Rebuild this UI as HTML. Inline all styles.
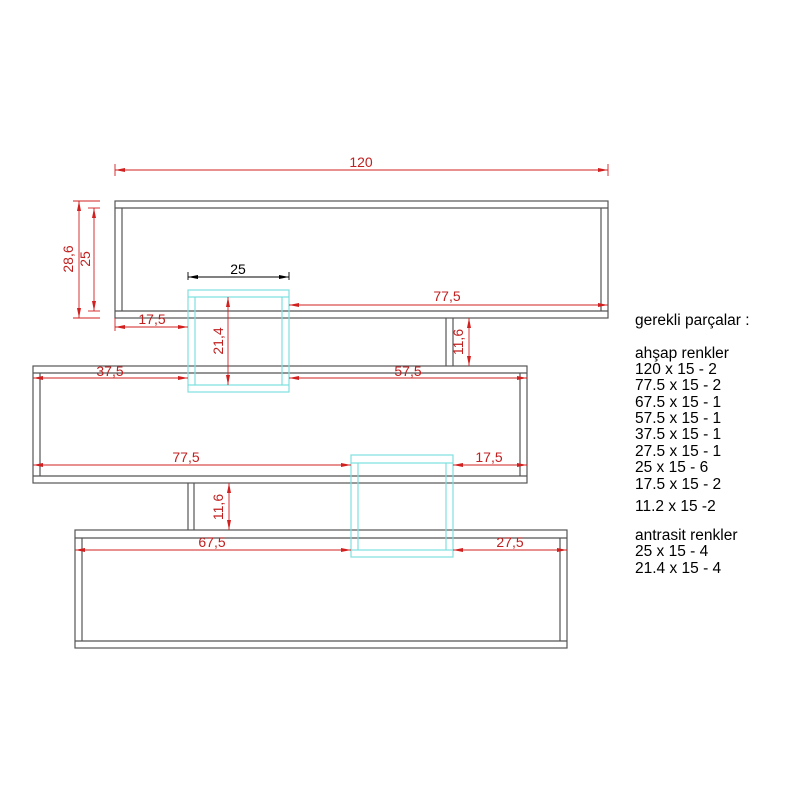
<!DOCTYPE html>
<html><head><meta charset="utf-8"><style>
body{margin:0;background:#fff}
svg{display:block}
.k{stroke:#555;stroke-width:1.2;fill:none}
.c{stroke:#7fe0e0;stroke-width:1.2;fill:none}
.r{stroke:#d02020;stroke-width:0.9;fill:none}
.t{font-family:"Liberation Sans",sans-serif;font-size:14px;fill:#c02020}
.l{font-family:"Liberation Sans",sans-serif;font-size:15.5px;fill:#000}
</style></head><body>
<svg width="800" height="800" viewBox="0 0 800 800" xmlns="http://www.w3.org/2000/svg">
<defs>
<marker id="a" viewBox="0 0 10 6" refX="10" refY="3" markerWidth="10" markerHeight="6" markerUnits="userSpaceOnUse" orient="auto-start-reverse"><path d="M0,1 L10,3 L0,5 z" fill="#d02020"/></marker>
<marker id="b" viewBox="0 0 10 6" refX="10" refY="3" markerWidth="10" markerHeight="6" markerUnits="userSpaceOnUse" orient="auto-start-reverse"><path d="M0,1 L10,3 L0,5 z" fill="#000"/></marker>
</defs>
<rect class="k" x="115" y="201" width="493" height="117"/>
<line class="k" x1="115" y1="208" x2="608" y2="208"/><line class="k" x1="115" y1="311" x2="608" y2="311"/>
<line class="k" x1="122" y1="208" x2="122" y2="311"/><line class="k" x1="601" y1="208" x2="601" y2="311"/>
<rect class="k" x="33" y="366" width="494" height="117"/>
<line class="k" x1="33" y1="373" x2="527" y2="373"/><line class="k" x1="33" y1="476" x2="527" y2="476"/>
<line class="k" x1="40" y1="373" x2="40" y2="476"/><line class="k" x1="520" y1="373" x2="520" y2="476"/>
<rect class="k" x="75" y="530" width="492" height="118"/>
<line class="k" x1="75" y1="538" x2="567" y2="538"/><line class="k" x1="75" y1="641" x2="567" y2="641"/>
<line class="k" x1="82" y1="538" x2="82" y2="641"/><line class="k" x1="560" y1="538" x2="560" y2="641"/>
<line class="k" x1="446" y1="318" x2="446" y2="366"/><line class="k" x1="453" y1="318" x2="453" y2="366"/>
<line class="k" x1="188" y1="483" x2="188" y2="530"/><line class="k" x1="194" y1="483" x2="194" y2="530"/>
<rect x="188" y="290" width="101" height="102" fill="#fff" class="c"/>
<line class="c" x1="188" y1="297" x2="289" y2="297"/><line class="c" x1="188" y1="385" x2="289" y2="385"/>
<line class="c" x1="195" y1="297" x2="195" y2="385"/><line class="c" x1="282" y1="297" x2="282" y2="385"/>
<rect x="351" y="455" width="102" height="102" fill="#fff" class="c"/>
<line class="c" x1="351" y1="463" x2="453" y2="463"/><line class="c" x1="351" y1="550" x2="453" y2="550"/>
<line class="c" x1="358" y1="463" x2="358" y2="550"/><line class="c" x1="446" y1="463" x2="446" y2="550"/>
<line class="r" x1="115" y1="170" x2="608" y2="170" marker-start="url(#a)" marker-end="url(#a)"/>
<line class="r" x1="115" y1="164" x2="115" y2="176"/><line class="r" x1="608" y1="164" x2="608" y2="176"/>
<text class="t" x="361" y="167" text-anchor="middle">120</text>
<line class="r" x1="79" y1="201" x2="79" y2="318" marker-start="url(#a)" marker-end="url(#a)"/>
<line class="r" x1="73" y1="201" x2="100" y2="201"/><line class="r" x1="73" y1="318" x2="100" y2="318"/>
<text class="t" transform="translate(73,259) rotate(-90)" text-anchor="middle">28,6</text>
<line class="r" x1="94" y1="208" x2="94" y2="311" marker-start="url(#a)" marker-end="url(#a)"/>
<line class="r" x1="88" y1="208" x2="100" y2="208"/><line class="r" x1="88" y1="311" x2="100" y2="311"/>
<text class="t" transform="translate(90,259) rotate(-90)" text-anchor="middle">25</text>
<line stroke="#000" stroke-width="0.9" x1="188" y1="277" x2="289" y2="277" marker-start="url(#b)" marker-end="url(#b)"/>
<line stroke="#000" stroke-width="0.9" x1="188" y1="272" x2="188" y2="280"/><line stroke="#000" stroke-width="0.9" x1="289" y1="272" x2="289" y2="280"/>
<text x="238" y="274" text-anchor="middle" style="font-family:'Liberation Sans',sans-serif;font-size:14px">25</text>
<line class="r" x1="289" y1="305" x2="608" y2="305" marker-start="url(#a)" marker-end="url(#a)"/>
<text class="t" x="447" y="301" text-anchor="middle">77,5</text>
<line class="r" x1="115" y1="327" x2="188" y2="327" marker-start="url(#a)" marker-end="url(#a)"/>
<line class="r" x1="115" y1="318" x2="115" y2="331"/>
<text class="t" x="152" y="324" text-anchor="middle">17,5</text>
<line class="r" x1="228" y1="297" x2="228" y2="385" marker-start="url(#a)" marker-end="url(#a)"/>
<text class="t" transform="translate(223,341) rotate(-90)" text-anchor="middle">21,4</text>
<line class="r" x1="469" y1="318" x2="469" y2="366" marker-start="url(#a)" marker-end="url(#a)"/>
<text class="t" transform="translate(463,342) rotate(-90)" text-anchor="middle">11,6</text>
<line class="r" x1="33" y1="378" x2="188" y2="378" marker-start="url(#a)" marker-end="url(#a)"/>
<text class="t" x="110" y="376" text-anchor="middle">37,5</text>
<line class="r" x1="289" y1="378" x2="527" y2="378" marker-start="url(#a)" marker-end="url(#a)"/>
<text class="t" x="408" y="376" text-anchor="middle">57,5</text>
<line class="r" x1="33" y1="465" x2="351" y2="465" marker-start="url(#a)" marker-end="url(#a)"/>
<text class="t" x="186" y="462" text-anchor="middle">77,5</text>
<line class="r" x1="453" y1="465" x2="527" y2="465" marker-start="url(#a)" marker-end="url(#a)"/>
<text class="t" x="489" y="462" text-anchor="middle">17,5</text>
<line class="r" x1="229" y1="483" x2="229" y2="530" marker-start="url(#a)" marker-end="url(#a)"/>
<text class="t" transform="translate(223,507) rotate(-90)" text-anchor="middle">11,6</text>
<line class="r" x1="75" y1="550" x2="351" y2="550" marker-start="url(#a)" marker-end="url(#a)"/>
<text class="t" x="212" y="547" text-anchor="middle">67,5</text>
<line class="r" x1="453" y1="550" x2="567" y2="550" marker-start="url(#a)" marker-end="url(#a)"/>
<text class="t" x="510" y="547" text-anchor="middle">27,5</text>
<g class="l">
<text x="635" y="325">gerekli parçalar :</text>
<text x="635" y="358">ahşap renkler</text>
<text x="635" y="374">120 x 15 - 2</text>
<text x="635" y="390">77.5 x 15 - 2</text>
<text x="635" y="407">67.5 x 15 - 1</text>
<text x="635" y="423">57.5 x 15 - 1</text>
<text x="635" y="439">37.5 x 15 - 1</text>
<text x="635" y="456">27.5 x 15 - 1</text>
<text x="635" y="472">25 x 15 - 6</text>
<text x="635" y="489">17.5 x 15 - 2</text>
<text x="635" y="511">11.2 x 15 -2</text>
<text x="635" y="540">antrasit  renkler</text>
<text x="635" y="556">25 x 15 - 4</text>
<text x="635" y="573">21.4 x 15 - 4</text>
</g>
</svg>
</body></html>
